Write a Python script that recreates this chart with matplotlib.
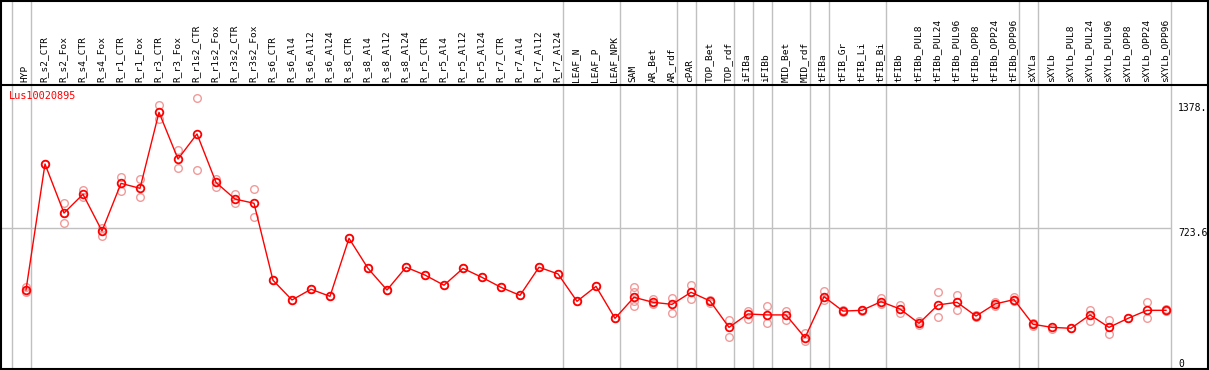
import matplotlib
matplotlib.use("Agg")
import matplotlib.pyplot as plt
from matplotlib.transforms import blended_transform_factory

# ---------------- data ----------------
gene = "Lus10020895"
categories = ["HYP", "R_s2_CTR", "R_s2_Fox", "R_s4_CTR", "R_s4_Fox", "R_r1_CTR", "R_r1_Fox",
              "R_r3_CTR", "R_r3_Fox", "R_r1s2_CTR", "R_r1s2_Fox", "R_r3s2_CTR", "R_r3s2_Fox",
              "R_s6_CTR", "R_s6_Al4", "R_s6_Al12", "R_s6_Al24", "R_s8_CTR", "R_s8_Al4",
              "R_s8_Al12", "R_s8_Al24", "R_r5_CTR", "R_r5_Al4", "R_r5_Al12", "R_r5_Al24",
              "R_r7_CTR", "R_r7_Al4", "R_r7_Al12", "R_r7_Al24", "LEAF_N", "LEAF_P", "LEAF_NPK",
              "SAM", "AR_Bet", "AR_rdf", "cPAR", "TOP_Bet", "TOP_rdf", "iFIBa", "iFIBb",
              "MID_Bet", "MID_rdf", "tFIBa", "tFIB_Gr", "tFIB_Li", "tFIB_Bi", "tFIBb",
              "tFIBb_PUL8", "tFIBb_PUL24", "tFIBb_PUL96", "tFIBb_OPP8", "tFIBb_OPP24",
              "tFIBb_OPP96", "sXYLa", "sXYLb", "sXYLb_PUL8", "sXYLb_PUL24", "sXYLb_PUL96",
              "sXYLb_OPP8", "sXYLb_OPP24", "sXYLb_OPP96"]

means = [402, 1060, 804, 902, 710, 959, 933, 1330, 1086, 1217, 964, 877, 855,
         453, 350, 406, 369, 672, 515, 402, 521, 480, 427, 515, 468, 416, 374, 521, 486,
         343, 421, 254, 364, 338, 327, 390, 345, 207, 277, 272, 272, 153, 367, 292, 296,
         341, 303, 228, 324, 338, 266, 329, 352, 223, 207, 202, 272, 207, 254, 296, 296]

replicates = [[419, 390], [1060], [855, 750, 806], [924, 889], [727, 686], [990, 921],
              [980, 889], [1368, 1293], [1133, 1037], [1403, 1029], [980, 942], [902, 855],
              [929, 785], [453], [350], [406], [369], [672], [515], [402], [521], [480],
              [427], [515], [468], [416], [374], [521], [486], [343], [421], [254],
              [416, 393, 345, 319], [355, 327], [359, 280], [428, 353], [350, 335],
              [245, 158], [292, 249], [319, 228], [292, 245], [179, 137], [397, 350],
              [288, 296], [300, 290], [362, 330], [324, 280], [240, 220], [390, 260],
              [376, 298], [270, 262], [338, 319], [367, 345], [230, 215], [200], [202],
              [298, 242], [245, 172], [254], [338, 257], [302, 290]]

# group separators drawn after these category indices (-1 = before first)
separators = [-1, 0, 28, 31, 34, 35, 37, 38, 39, 41, 42, 45, 52, 53, 60]
y_ticks = [1378, 723.6, 0]
y_tick_labels = ["1378.", "723.6", "0"]
grid_value = 723.6

# ---------------- layout (pixel geometry) ----------------
W, H = 1209, 370
X0, DX = 26.0, 19.0          # pixel x of first category, spacing
Y0, KY = 367.0, 0.1915       # pixel y of value 0, pixels per unit
L, R, T, B = 1.0, 1207.5, 0.7, 368.7


def xval(px):
    return (px - X0) / DX


def yval(py):
    return (Y0 - py) / KY


fig = plt.figure(figsize=(W / 100, H / 100), dpi=100)
ax = fig.add_axes([L / W, 1 - B / H, (R - L) / W, (B - T) / H])
ax.set_xlim(xval(L), xval(R))
ax.set_ylim(yval(B), yval(T))
ax.set_xticks([])
ax.set_yticks([])
for s in ax.spines.values():
    s.set_linewidth(1.5)
    s.set_color("black")

mono = "DejaVu Sans Mono"
grey = "#c0c0c0"

# vertical separators (full height)
for s in separators:
    ax.axvline(s + 0.25, color=grey, lw=1.0, zorder=1)

# horizontal grid line
ax.hlines(grid_value, xval(L), separators[-1] + 0.25, color=grey, lw=1.0, zorder=1)

# header line
ax.axhline(yval(85.5), color="black", lw=1.5, zorder=2)

# category labels in header
trans = blended_transform_factory(ax.transData, ax.transData)
for i, c in enumerate(categories):
    ax.text(i - 0.05, yval(82.5), c, rotation=90, ha="center", va="bottom",
            fontsize=6.8, family=mono, color="black")

# replicate points
xs_rep, ys_rep = [], []
for i, reps in enumerate(replicates):
    for v in reps:
        xs_rep.append(i)
        ys_rep.append(v)
ax.plot(xs_rep, ys_rep, linestyle="none", marker="o", ms=5.5, mfc="none",
        mec="#f09a9a", mew=1.0, zorder=3)

# mean line
xs = list(range(len(categories)))
ax.plot(xs, means, color="red", lw=1.0, marker="o", ms=5.5, mfc="none",
        mec="red", mew=1.3, zorder=4)

# y labels at right
for v, lab in zip(y_ticks, y_tick_labels):
    va = "baseline" if v == 0 else "top"
    ax.text(xval(1178), v, lab, ha="left", va=va, fontsize=7, family=mono,
            color="black", clip_on=True)

# gene name
ax.text(xval(9), yval(91.5), gene, ha="left", va="top", fontsize=7.4, family=mono,
        color="red")

fig.savefig("out.png", dpi=100)
